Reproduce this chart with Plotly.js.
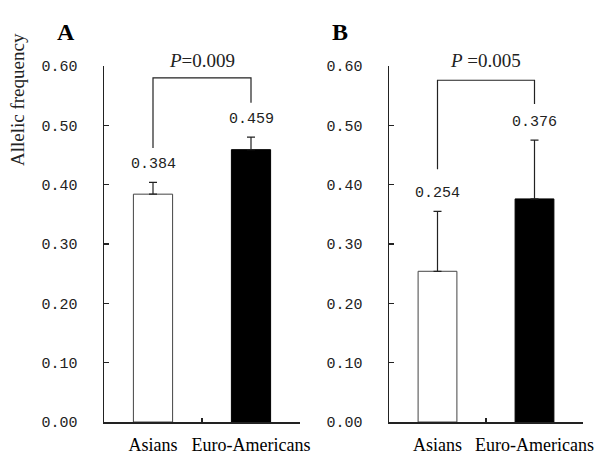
<!DOCTYPE html>
<html>
<head>
<meta charset="utf-8">
<script src="https://cdn.plot.ly/plotly-3.0.1.min.js"></script>
<style>html,body{margin:0;padding:0;background:#fff;}#chart{width:603px;height:454px;}</style>
</head>
<body>
<div id="chart"></div>
<script>
// ---- data ----
const categories = ['Asians', 'Euro-Americans'];
const freqA = [0.384, 0.459];
const errA = [0.020, 0.021];
const freqB = [0.254, 0.376];
const errB = [0.101, 0.099];
const labelsA = ['0.384', '0.459'];
const labelsB = ['0.254', '0.376'];
const pTextA = '<i>P</i>=0.009';
const pTextB = '<i>P</i> =0.005';
// bracket: [left-end y, top y, right-end y]
const bracketA = [0.462, 0.580, 0.538];
const bracketB = [0.426, 0.576, 0.536];
const yTickVals = [0, 0.1, 0.2, 0.3, 0.4, 0.5, 0.6];
const yTickText = ['0.00', '0.10', '0.20', '0.30', '0.40', '0.50', '0.60'];
const panelLabels = ['A', 'B'];
const yTitle = 'Allelic frequency';

const barFill = ['#ffffff', '#000000'];
const barLine = ['#444444', '#000000'];
const monoFont = {family: 'Liberation Mono, monospace', size: 15, color: '#222'};
const serif = 'Liberation Serif, Times New Roman, serif';

function barTrace(vals, errs, xa, ya) {
  return {
    type: 'bar', x: categories, y: vals, xaxis: xa, yaxis: ya, width: 0.4,
    marker: {color: barFill, line: {color: barLine, width: 1}},
    error_y: {type: 'data', symmetric: false, array: errs, arrayminus: errs.map(() => 0),
              color: '#222', thickness: 1.2, width: 4},
    hoverinfo: 'skip', showlegend: false
  };
}
function bracketTrace(b, xa, ya) {
  return {
    type: 'scatter', mode: 'lines', xaxis: xa, yaxis: ya,
    x: [categories[0], categories[0], categories[1], categories[1]],
    y: [b[0], b[1], b[1], b[2]],
    line: {color: '#222', width: 1.2}, hoverinfo: 'skip', showlegend: false, cliponaxis: false
  };
}

const data = [
  barTrace(freqA, errA, 'x', 'y'),
  barTrace(freqB, errB, 'x2', 'y2'),
  bracketTrace(bracketA, 'x', 'y'),
  bracketTrace(bracketB, 'x2', 'y2')
];

const annotations = [];
function valueLabels(vals, errs, labels, xr, yr) {
  vals.forEach((v, i) => {
    annotations.push({xref: xr, yref: yr, x: categories[i], y: v + errs[i], text: labels[i],
      showarrow: false, yanchor: 'middle', yshift: 18, font: monoFont});
  });
}
valueLabels(freqA, errA, labelsA, 'x', 'y');
valueLabels(freqB, errB, labelsB, 'x2', 'y2');
annotations.push({xref: 'x', yref: 'y', x: 0.5, y: 0.6, yshift: 6, text: pTextA, showarrow: false,
  yanchor: 'middle', font: {family: serif, size: 19, color: '#222'}});
annotations.push({xref: 'x2', yref: 'y2', x: 0.5, y: 0.6, yshift: 6, text: pTextB, showarrow: false,
  yanchor: 'middle', font: {family: serif, size: 19, color: '#222'}});
annotations.push({xref: 'paper', yref: 'paper', x: 66 / 603, y: 1 - 32 / 454, text: '<b>' + panelLabels[0] + '</b>',
  showarrow: false, xanchor: 'center', yanchor: 'middle', font: {family: serif, size: 24, color: '#000'}});
annotations.push({xref: 'paper', yref: 'paper', x: 340 / 603, y: 1 - 32 / 454, text: '<b>' + panelLabels[1] + '</b>',
  showarrow: false, xanchor: 'center', yanchor: 'middle', font: {family: serif, size: 24, color: '#000'}});
annotations.push({xref: 'paper', yref: 'paper', x: 18 / 603, y: 1 - 100 / 454, text: yTitle, textangle: -90,
  showarrow: false, xanchor: 'center', yanchor: 'middle', font: {family: serif, size: 19, color: '#222'}});

const xCommon = {
  type: 'category', range: [-0.5, 1.5], showline: true, linecolor: '#222', linewidth: 1.5,
  ticks: 'inside', tickson: 'boundaries', ticklen: 4, tickcolor: '#222', tickwidth: 1.2,
  showgrid: false, zeroline: false, fixedrange: true, tickangle: 0,
  tickfont: {family: serif, size: 18, color: '#000'}, ticklabelstandoff: 6
};
const yCommon = {
  range: [0, 0.6], showline: true, linecolor: '#222', linewidth: 1.5,
  ticks: 'inside', ticklen: 5, tickcolor: '#222', tickwidth: 1.2,
  tickvals: yTickVals, ticktext: yTickText, tickfont: monoFont,
  showgrid: false, zeroline: false, fixedrange: true, ticklabelstandoff: 22
};
const yDom = [(454 - 422) / 454, (454 - 66) / 454];

const layout = {
  width: 603, height: 454, margin: {l: 0, r: 0, t: 0, b: 0},
  paper_bgcolor: '#fff', plot_bgcolor: '#fff', showlegend: false, bargap: 0,
  xaxis: Object.assign({}, xCommon, {domain: [104 / 603, 300 / 603], anchor: 'y'}),
  yaxis: Object.assign({}, yCommon, {domain: yDom, anchor: 'x'}),
  xaxis2: Object.assign({}, xCommon, {domain: [389 / 603, 583 / 603], anchor: 'y2'}),
  yaxis2: Object.assign({}, yCommon, {domain: yDom, anchor: 'x2'}),
  annotations: annotations
};

Plotly.newPlot('chart', data, layout, {staticPlot: true, displayModeBar: false});
</script>
</body>
</html>
